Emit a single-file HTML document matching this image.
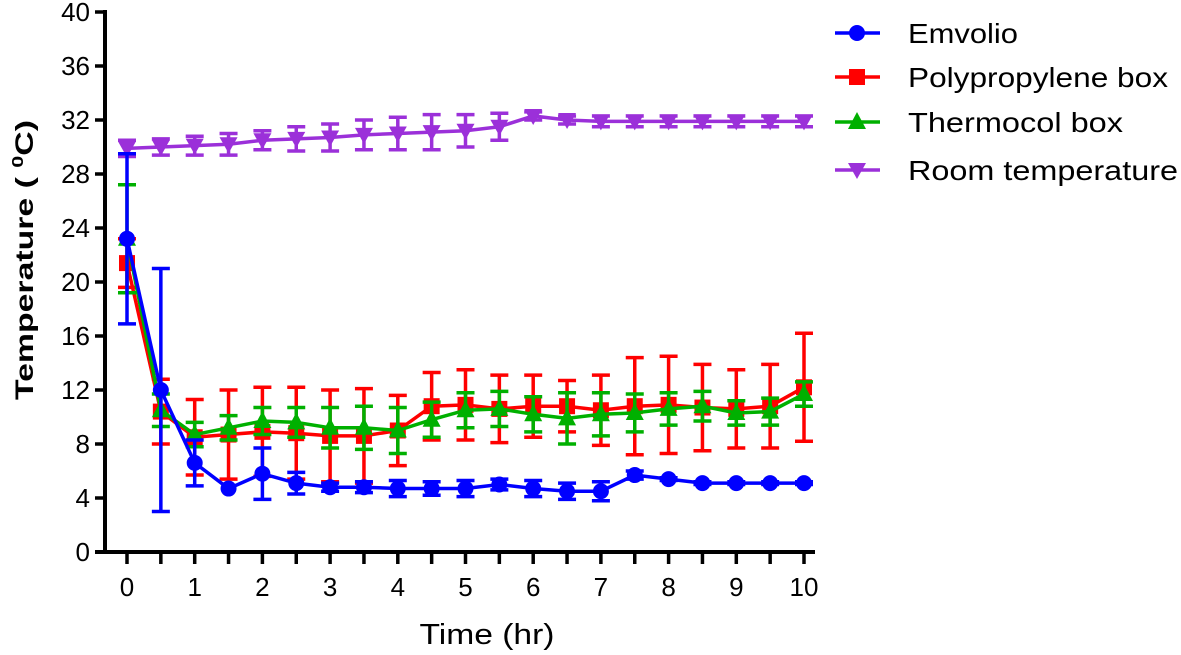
<!DOCTYPE html>
<html><head><meta charset="utf-8"><style>
html,body{margin:0;padding:0;background:#fff;}
svg{display:block;font-family:"Liberation Sans",Arial,sans-serif;}
</style></head><body>
<svg id="s" width="1181" height="655" viewBox="0 0 1181 655" xmlns="http://www.w3.org/2000/svg">
<g stroke="#000" stroke-width="4" fill="none">
<line x1="105" y1="10" x2="105" y2="554"/>
<line x1="95" y1="552" x2="815" y2="552"/>
</g>
<g id="ax"></g>
<g id="data"></g>
<text x="487" y="644" font-size="29" text-anchor="middle" textLength="135" lengthAdjust="spacingAndGlyphs">Time (hr)</text>
<text transform="translate(33,260) rotate(-90)" font-size="25" font-weight="bold" text-anchor="middle" textLength="280" lengthAdjust="spacingAndGlyphs">Temperature ( <tspan font-size="16" dy="-10">0</tspan><tspan dy="10">C)</tspan></text>
<g font-size="28">
<line x1="835" y1="33" x2="880" y2="33" stroke="#0000ff" stroke-width="3.5"/><circle cx="857" cy="33" r="8" fill="#0000ff"/>
<text x="908" y="43" textLength="110" lengthAdjust="spacingAndGlyphs">Emvolio</text>
<line x1="835" y1="77" x2="880" y2="77" stroke="#ff0000" stroke-width="3.5"/><rect x="849" y="69" width="16" height="16" fill="#ff0000"/>
<text x="908" y="87" textLength="260" lengthAdjust="spacingAndGlyphs">Polypropylene box</text>
<line x1="835" y1="122" x2="880" y2="122" stroke="#00b000" stroke-width="3.5"/><polygon points="857,112 866,129 848,129" fill="#00b000"/>
<text x="908" y="132" textLength="215" lengthAdjust="spacingAndGlyphs">Thermocol box</text>
<line x1="835" y1="170" x2="880" y2="170" stroke="#9b30d9" stroke-width="3.5"/><polygon points="848,163 866,163 857,179" fill="#9b30d9"/>
<text x="908" y="180" textLength="270" lengthAdjust="spacingAndGlyphs">Room temperature</text>
</g>
</svg>
<script>
var NS="http://www.w3.org/2000/svg";
function el(p,t,a,txt){var e=document.createElementNS(NS,t);for(var k in a)e.setAttribute(k,a[k]);if(txt!==undefined)e.textContent=txt;p.appendChild(e);return e;}
var X=function(t){return 127+t*67.7}, Y=function(v){return 552-v*13.5};
var ax=document.getElementById('ax');
for(var v=0;v<=40;v+=4){el(ax,'line',{x1:95,x2:105,y1:Y(v),y2:Y(v),stroke:'#000','stroke-width':3.5});
el(ax,'text',{x:90,y:Y(v)+9,'font-size':26,'text-anchor':'end'},String(v));}
for(var i=0;i<=20;i++){var x=X(i/2);el(ax,'line',{x1:x,x2:x,y1:552,y2:564,stroke:'#000','stroke-width':3.5});
if(i%2==0)el(ax,'text',{x:x,y:596,'font-size':26,'text-anchor':'middle'},String(i/2));}
var S=[
{c:'#9b30d9',m:'tri-d',v:[29.9,30.0,30.1,30.2,30.5,30.6,30.7,30.9,31.0,31.1,31.2,31.5,32.3,32.0,31.9,31.9,31.9,31.9,31.9,31.9,31.9],
 e:[0.6,0.6,0.7,0.8,0.7,0.9,1.0,1.1,1.2,1.3,1.2,1.0,0.3,0.3,0.4,0.4,0.4,0.4,0.4,0.4,0.4]},
{c:'#ff0000',m:'sq',v:[21.4,10.4,8.5,8.7,8.9,8.8,8.6,8.6,9.0,10.8,10.9,10.6,10.8,10.8,10.5,10.8,10.9,10.7,10.6,10.8,12.2],
 e:[1.8,2.4,2.8,3.3,3.3,3.4,3.4,3.5,2.6,2.5,2.6,2.5,2.3,1.9,2.6,3.6,3.6,3.2,2.9,3.1,4.0]},
{c:'#00b000',m:'tri',v:[23.2,10.5,8.7,9.2,9.7,9.6,9.2,9.2,9.0,9.8,10.5,10.6,10.2,9.9,10.2,10.3,10.6,10.8,10.3,10.4,11.7],
 e:[4.0,1.2,0.9,0.9,1.0,1.1,1.5,1.6,1.7,1.3,1.3,1.3,1.3,1.9,1.6,1.4,1.2,1.1,0.9,1.0,0.9]},
{c:'#0000ff',m:'c',v:[23.2,12,6.6,4.7,5.8,5.1,4.8,4.8,4.7,4.7,4.7,5.0,4.7,4.5,4.5,5.7,5.4,5.1,5.1,5.1,5.1],
 e:[6.3,9,1.7,0,1.9,0.8,0.3,0.4,0.6,0.5,0.6,0.4,0.6,0.6,0.7,0.3,0.1,0.1,0.1,0.1,0.1]}];
var g=document.getElementById('data');
S.forEach(function(s){
 var pts=s.v.map(function(v,i){return X(i/2)+','+Y(v)}).join(' ');
 s.v.forEach(function(v,i){var x=X(i/2);if(s.e[i]>0){
  el(g,'line',{x1:x,x2:x,y1:Y(v+s.e[i]),y2:Y(v-s.e[i]),stroke:s.c,'stroke-width':3.5});
  [v+s.e[i],v-s.e[i]].forEach(function(w){el(g,'line',{x1:x-9,x2:x+9,y1:Y(w),y2:Y(w),stroke:s.c,'stroke-width':3.5});});}});
 el(g,'polyline',{points:pts,fill:'none',stroke:s.c,'stroke-width':3.5});
 s.v.forEach(function(v,i){var x=X(i/2),y=Y(v);
  if(s.m=='c')el(g,'circle',{cx:x,cy:y,r:8,fill:s.c});
  else if(s.m=='sq')el(g,'rect',{x:x-8,y:y-8,width:16,height:16,fill:s.c});
  else if(s.m=='tri')el(g,'polygon',{points:(x)+','+(y-10)+' '+(x+9)+','+(y+7)+' '+(x-9)+','+(y+7),fill:s.c});
  else el(g,'polygon',{points:(x-9)+','+(y-7)+' '+(x+9)+','+(y-7)+' '+x+','+(y+9),fill:s.c});});
});
</script>
</body></html>
